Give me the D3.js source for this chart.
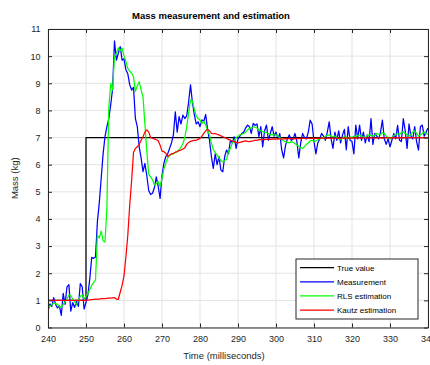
<!DOCTYPE html>
<html>
<head>
<meta charset="utf-8">
<script src="https://cdn.jsdelivr.net/npm/d3@7"></script>
<style>
  html, body { margin: 0; padding: 0; background: #fff; }
  svg { display: block; font-family: "Liberation Sans", Arial, Helvetica, sans-serif; }
</style>
</head>
<body>
<svg id="chart" width="430" height="365"></svg>
<script>
// Sampling grid of the experiment (milliseconds)
const startMs = 240;
const stepMs = 0.5;

// Tick values
const xTicks = [240, 250, 260, 270, 280, 290, 300, 310, 320, 330, 340];
const yTicks = [0, 1, 2, 3, 4, 5, 6, 7, 8, 9, 10, 11];

// True mass: step from 1 kg to 7 kg at t = 250 ms
const trueTime = [240, 250, 250, 340];
const trueMass = [1, 1, 7, 7];

// Raw measured mass (kg), one value every 0.5 ms from 240 ms
const measurement = [
  0.60, 0.87, 0.78, 1.10, 0.85, 0.72, 0.80, 0.45, 1.26, 0.85,
  1.50, 1.58, 0.60, 0.92, 0.74, 0.96, 0.78, 1.62, 1.50, 0.68,
  0.92, 1.20, 1.80, 2.58, 2.55, 2.60, 3.90, 4.60, 5.50, 6.40,
  7.03, 7.40, 7.70, 8.20, 8.80, 10.56, 9.85, 10.10, 10.35, 9.85,
  9.90, 9.50, 9.35, 8.95, 8.75, 8.85, 7.70, 7.40, 6.66, 6.25,
  5.74, 6.05, 5.60, 5.05, 4.90, 4.95, 5.15, 5.55, 5.20, 4.76,
  5.60, 6.05, 6.30, 6.40, 6.60, 6.80, 7.10, 7.95, 7.20, 7.77,
  7.50, 7.83, 7.70, 7.80, 8.30, 8.94, 8.30, 7.85, 7.50, 7.58,
  7.40, 7.65, 7.60, 7.85, 7.30, 6.90, 6.30, 5.86, 6.40, 6.00,
  6.30, 5.80, 5.74, 6.30, 6.54, 6.40, 6.90, 6.80, 7.03, 6.60,
  6.95, 7.05, 7.15, 7.20, 7.35, 7.46, 7.40, 7.15, 7.52, 7.45,
  7.50, 7.03, 7.40, 6.66, 7.25, 7.46, 6.90, 7.15, 7.40, 7.05,
  7.20, 6.95, 7.15, 6.55, 6.25, 6.70, 6.95, 7.10, 6.90, 6.95,
  7.15, 6.85, 6.25, 6.80, 7.15, 7.00, 6.95, 7.20, 7.64, 7.50,
  6.85, 6.40, 6.80, 6.95, 7.15, 7.05, 6.90, 7.20, 7.58, 6.95,
  6.60, 7.20, 6.90, 7.25, 6.80, 7.10, 7.30, 6.55, 7.40, 6.90,
  6.85, 6.40, 7.46, 6.95, 7.46, 6.90, 7.20, 6.80, 7.10, 6.85,
  7.70, 6.75, 7.15, 7.05, 6.95, 7.20, 7.64, 6.95, 6.75, 6.95,
  6.66, 6.90, 7.15, 6.95, 7.45, 6.90, 6.85, 7.70, 7.25, 6.60,
  7.50, 7.05, 6.95, 7.40, 6.85, 6.54, 7.40, 7.46, 7.05, 7.20,
  7.35
];

// Recursive least squares estimate (kg)
const rlsEstimate = [
  0.80, 0.78, 0.85, 0.90, 0.88, 0.85, 0.78, 0.74, 0.85, 0.95,
  1.05, 1.20, 1.18, 1.05, 0.95, 0.83, 1.00, 1.15, 1.20, 1.05,
  1.15, 1.25, 1.40, 1.55, 1.65, 1.75, 3.40, 3.30, 3.55, 3.20,
  3.15, 4.40, 8.10, 9.00, 8.75, 10.00, 10.10, 10.30, 10.20, 10.30,
  10.00, 9.80, 9.55, 9.45, 9.37, 9.24, 8.70, 8.90, 9.06, 8.75,
  8.50, 7.50, 6.50, 5.65, 5.55, 5.45, 5.25, 5.30, 5.37, 5.20,
  5.50, 5.85, 6.05, 6.25, 6.35, 6.38, 6.40, 6.45, 6.48, 6.55,
  6.65, 6.78, 7.00, 7.40, 7.90, 8.38, 8.35, 8.05, 7.80, 7.70,
  7.65, 7.52, 7.60, 7.45, 7.25, 7.10, 6.80, 6.55, 6.45, 6.35,
  6.25, 6.15, 6.10, 6.15, 6.20, 6.50, 6.60, 6.80, 6.90, 7.00,
  7.05, 7.10, 7.12, 7.15, 7.20, 7.28, 7.34, 7.36, 7.40, 7.38,
  7.35, 7.28, 7.25, 7.22, 7.20, 7.18, 7.15, 7.10, 7.12, 7.10,
  7.10, 7.05, 7.00, 6.92, 6.88, 6.85, 6.82, 6.80, 6.85, 6.82,
  6.78, 6.72, 6.68, 6.62, 6.60, 6.66, 6.75, 6.80, 6.88, 6.90,
  6.85, 6.88, 6.92, 6.95, 6.98, 7.00, 7.05, 7.08, 7.10, 7.05,
  7.02, 7.06, 7.00, 6.95, 6.92, 6.98, 7.05, 7.00, 6.95, 7.02,
  7.00, 7.05, 7.02, 7.08, 7.10, 7.05, 7.02, 7.00, 7.06, 7.10,
  7.08, 7.05, 7.08, 7.15, 7.12, 7.10, 7.18, 7.15, 7.05, 7.00,
  6.95, 7.00, 7.08, 7.10, 7.15, 7.12, 7.18, 7.22, 7.15, 7.10,
  7.05, 7.12, 7.20, 7.25, 7.15, 7.05, 7.10, 7.15, 7.20, 7.15,
  7.12
];

// Kautz filter estimate (kg)
const kautzEstimate = [
  1.00, 1.00, 1.00, 1.00, 1.00, 1.00, 1.00, 1.00, 1.00, 1.00,
  1.00, 1.00, 1.00, 1.00, 1.00, 1.00, 1.00, 1.00, 1.00, 1.00,
  1.00, 1.01, 1.02, 1.03, 1.04, 1.05, 1.05, 1.05, 1.06, 1.06,
  1.06, 1.07, 1.08, 1.08, 1.09, 1.10, 1.05, 1.04, 1.30, 1.55,
  1.90, 2.60, 3.40, 4.50, 5.40, 6.45, 6.60, 6.66, 6.75, 6.90,
  7.03, 7.20, 7.28, 7.20, 7.00, 6.97, 6.95, 6.92, 6.88, 6.72,
  6.50, 6.48, 6.42, 6.30, 6.35, 6.40, 6.42, 6.46, 6.48, 6.52,
  6.54, 6.58, 6.62, 6.75, 6.82, 6.86, 6.88, 6.90, 6.90, 6.93,
  6.97, 7.05, 7.15, 7.25, 7.30, 7.25, 7.15, 7.14, 7.15, 7.12,
  7.10, 7.06, 7.03, 7.00, 6.97, 6.93, 6.90, 6.87, 6.85, 6.82,
  6.80, 6.82, 6.84, 6.86, 6.88, 6.86, 6.85, 6.87, 6.88, 6.90,
  6.90, 6.92, 6.92, 6.93, 6.92, 6.93, 6.94, 6.93, 6.94, 6.95,
  6.94, 6.95, 6.95, 6.94, 6.95, 6.96, 6.95, 6.96, 6.96, 6.95,
  6.96, 6.96, 6.97, 6.96, 6.97, 6.97, 6.96, 6.97, 6.97, 6.98,
  6.97, 6.97, 6.98, 6.97, 6.98, 6.98, 6.97, 6.98, 6.98, 6.97,
  6.98, 6.98, 6.98, 6.97, 6.98, 6.98, 6.99, 6.98, 6.98, 6.99,
  6.98, 6.99, 6.98, 6.99, 6.99, 6.98, 6.99, 6.99, 6.98, 6.99,
  6.99, 6.99, 6.98, 6.99, 6.99, 6.99, 6.98, 6.99, 6.99, 6.99,
  6.99, 7.00, 6.99, 6.99, 7.00, 6.99, 6.99, 7.00, 6.99, 7.00,
  7.00, 6.99, 7.00, 7.00, 6.99, 7.00, 7.00, 7.00, 6.99, 7.00,
  7.00
];

const seriesNames = ["True value", "Measurement", "RLS estimation", "Kautz estimation"];
const seriesColors = ["#000000", "#0000ff", "#00ff00", "#ff0000"];

// ---- layout ----
const plot = { left: 48, right: 428, top: 29, bottom: 327.5 };
const axisColor = "#262626";
const gridColor = "#e3e3e3";

const svg = d3.select("#chart");

const x = d3.scaleLinear().domain([240, 340]).range([plot.left, plot.right]);
const y = d3.scaleLinear().domain([0, 11]).range([plot.bottom, plot.top]);

// background grid
const grid = svg.append("g");
grid.selectAll("line.gx").data(xTicks).join("line")
  .attr("x1", d => x(d)).attr("x2", d => x(d))
  .attr("y1", plot.top).attr("y2", plot.bottom)
  .attr("stroke", gridColor).attr("stroke-width", 1);
grid.selectAll("line.gy").data(yTicks).join("line")
  .attr("x1", plot.left).attr("x2", plot.right)
  .attr("y1", d => y(d)).attr("y2", d => y(d))
  .attr("stroke", gridColor).attr("stroke-width", 1);

// data lines
svg.append("defs").append("clipPath").attr("id", "plotClip")
  .append("rect")
  .attr("x", plot.left).attr("y", plot.top)
  .attr("width", plot.right - plot.left).attr("height", plot.bottom - plot.top);

const timeAt = i => startMs + i * stepMs;
const line = d3.line().x(d => x(d[0])).y(d => y(d[1]));
const sampled = arr => arr.map((v, i) => [timeAt(i), v]);

const series = [
  trueTime.map((t, i) => [t, trueMass[i]]),
  sampled(measurement),
  sampled(rlsEstimate),
  sampled(kautzEstimate)
];

const lines = svg.append("g").attr("clip-path", "url(#plotClip)");
series.forEach((pts, k) => {
  lines.append("path")
    .attr("d", line(pts))
    .attr("fill", "none")
    .attr("stroke", seriesColors[k])
    .attr("stroke-width", 1.25)
    .attr("stroke-linejoin", "round");
});

// axes: inward ticks on all four sides
function styleAxis(g) {
  g.selectAll("path.domain").attr("stroke", axisColor).attr("stroke-width", 1);
  g.selectAll(".tick line").attr("stroke", axisColor).attr("stroke-width", 1);
  g.selectAll(".tick text").attr("fill", axisColor).attr("font-size", "9px")
    .attr("font-family", "Liberation Sans, Arial, sans-serif");
}

svg.append("g")
  .attr("transform", `translate(0,${plot.bottom})`)
  .call(d3.axisBottom(x).tickValues(xTicks).tickSize(-4).tickSizeOuter(0).tickPadding(8))
  .call(styleAxis);

svg.append("g")
  .attr("transform", `translate(${plot.left},0)`)
  .call(d3.axisLeft(y).tickValues(yTicks).tickSize(-4).tickSizeOuter(0).tickPadding(7.5))
  .call(styleAxis);

svg.append("g")
  .attr("transform", `translate(0,${plot.top})`)
  .call(d3.axisTop(x).tickValues(xTicks).tickSize(-4).tickSizeOuter(0).tickFormat(""))
  .call(styleAxis);

svg.append("g")
  .attr("transform", `translate(${plot.right},0)`)
  .call(d3.axisRight(y).tickValues(yTicks).tickSize(-4).tickSizeOuter(0).tickFormat(""))
  .call(styleAxis);

// titles
svg.append("text")
  .attr("x", 211).attr("y", 19)
  .attr("text-anchor", "middle")
  .attr("font-size", "9.5px").attr("font-weight", "bold").attr("fill", "#000")
  .text("Mass measurement and estimation");

svg.append("text")
  .attr("x", 224).attr("y", 359)
  .attr("text-anchor", "middle")
  .attr("font-size", "9.5px").attr("fill", axisColor)
  .text("Time (milliseconds)");

svg.append("text")
  .attr("transform", `translate(18,${(plot.top + plot.bottom) / 2}) rotate(-90)`)
  .attr("text-anchor", "middle")
  .attr("font-size", "9.5px").attr("fill", axisColor)
  .text("Mass (kg)");

// legend
const legend = svg.append("g");
legend.append("rect")
  .attr("x", 296).attr("y", 259).attr("width", 122).attr("height", 60)
  .attr("fill", "#fff").attr("stroke", axisColor).attr("stroke-width", 1);

seriesNames.forEach((name, k) => {
  const ly = 267.7 + k * 14.1;
  legend.append("line")
    .attr("x1", 300).attr("x2", 334).attr("y1", ly).attr("y2", ly)
    .attr("stroke", seriesColors[k]).attr("stroke-width", 1.25);
  legend.append("text")
    .attr("x", 337).attr("y", ly + 3)
    .attr("font-size", "8px").attr("fill", "#000")
    .text(name);
});
</script>
</body>
</html>
